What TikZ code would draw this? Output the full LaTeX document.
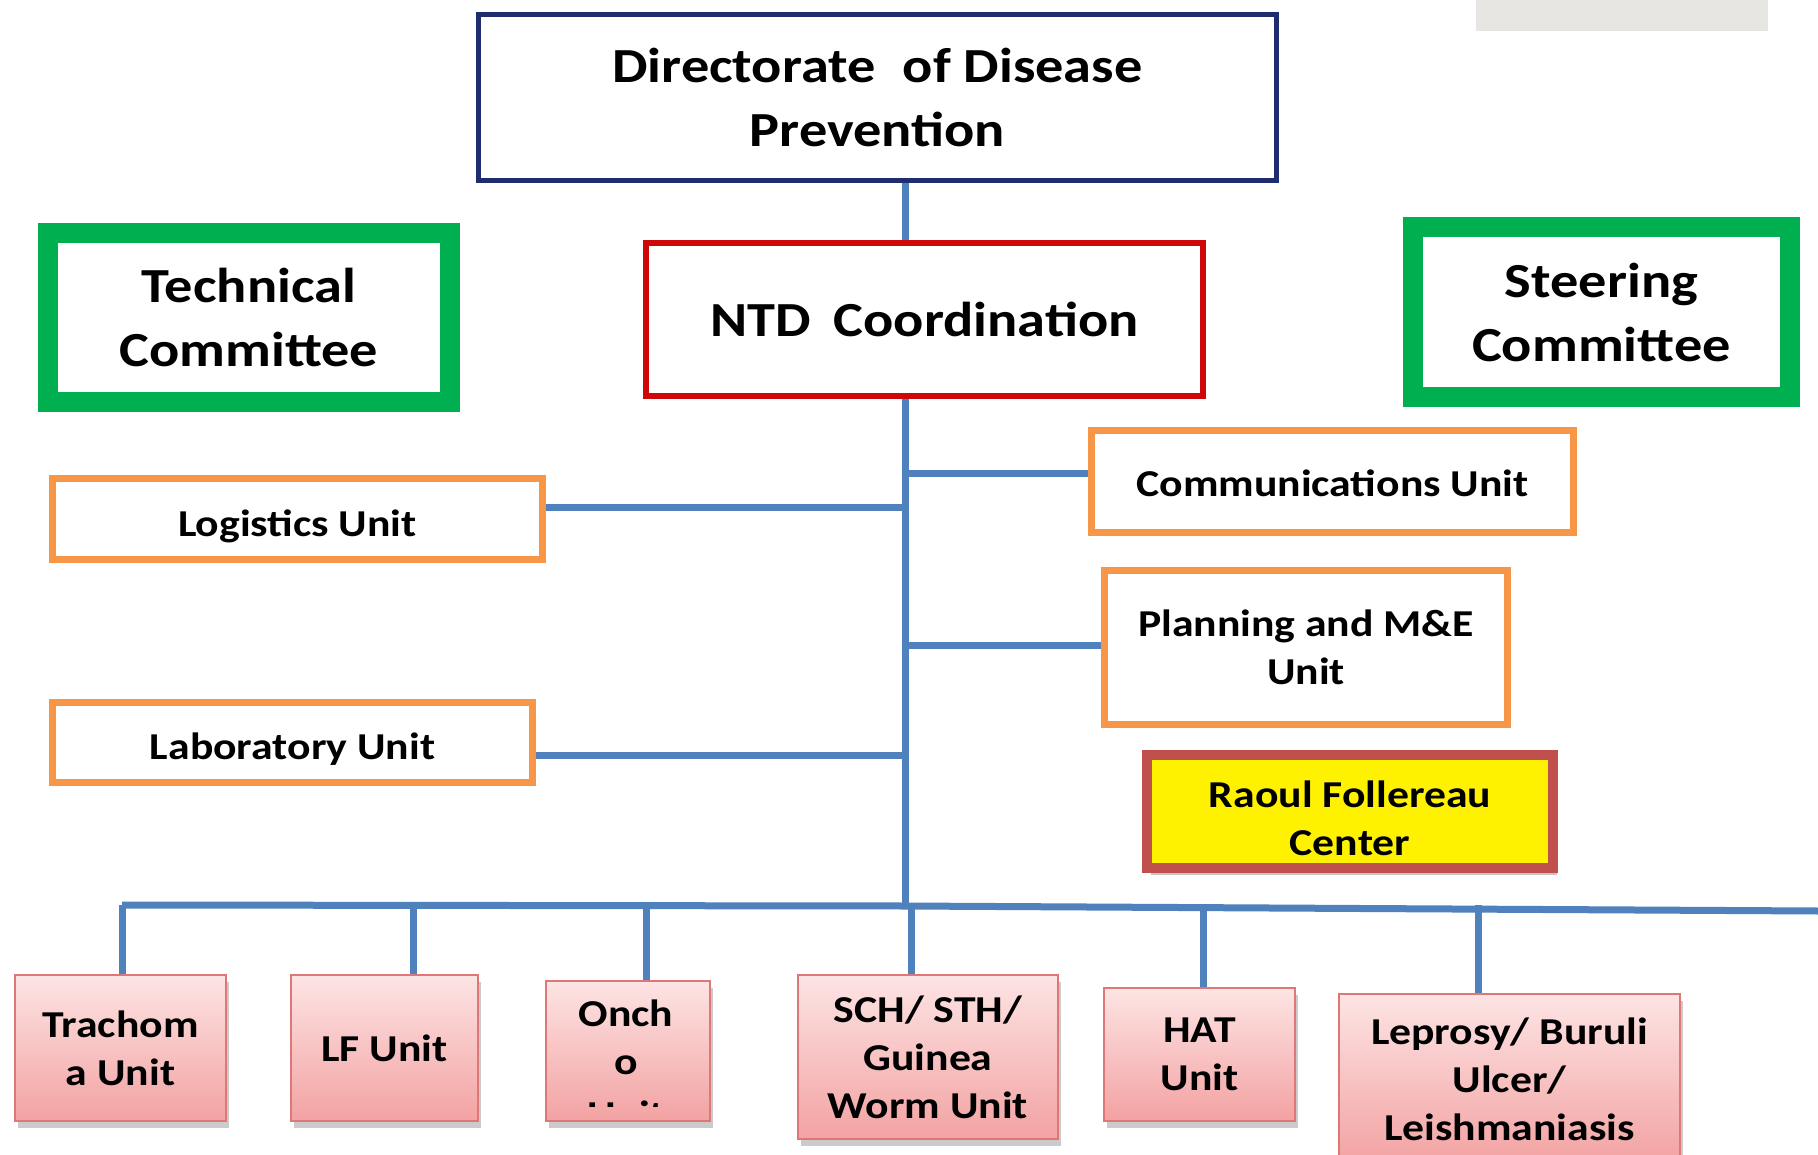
\documentclass[tikz,border=0pt]{standalone}
\usepackage{fontspec}
\setmainfont{Carlito}[FakeStretch=1.15]
\usetikzlibrary{shadows}

\definecolor{navyEdge}{RGB}{31,45,110}
\definecolor{redEdge}{RGB}{204,8,8}
\definecolor{greenEdge}{RGB}{0,176,80}
\definecolor{orangeEdge}{RGB}{247,150,70}
\definecolor{linkBlue}{RGB}{79,129,189}
\definecolor{raoulEdge}{RGB}{192,80,77}
\definecolor{pinkTop}{RGB}{253,228,228}
\definecolor{pinkBot}{RGB}{243,162,162}
\definecolor{pinkEdge}{RGB}{222,120,120}
\definecolor{tabGray}{RGB}{232,230,227}

% invisible strut that lowers a line of text inside its box
\newcommand{\lowerby}[1]{\rule{0pt}{#1}}

\tikzset{
  bigtxt/.style={font=\fontsize{49}{64}\selectfont\bfseries, align=center},
  smalltxt/.style={font=\fontsize{38}{48}\selectfont\bfseries, align=center},
  boxdim/.style 2 args={rectangle, inner sep=0pt, minimum width=#1, minimum height=#2},
  navybox/.style={draw=navyEdge, line width=5.5pt, fill=white, bigtxt},
  redbox/.style={draw=redEdge, line width=6.5pt, fill=white, bigtxt},
  greenbox/.style={draw=greenEdge, line width=20pt, fill=white, bigtxt},
  orangebox/.style={draw=orangeEdge, line width=7pt, fill=white, smalltxt},
  raoulbox/.style={draw=raoulEdge, line width=10pt, fill=yellow, smalltxt,
    drop shadow={shadow xshift=4pt, shadow yshift=-7pt, fill=black!45}},
  unitbox/.style={draw=pinkEdge, line width=2.5pt, top color=pinkTop, bottom color=pinkBot,
    smalltxt, drop shadow={shadow xshift=3pt, shadow yshift=-7pt, fill=black!40}},
  conn/.style={draw=linkBlue, line width=7pt},
}

\begin{document}
\begin{tikzpicture}[x=1pt,y=-1pt]
\useasboundingbox (0,0) rectangle (1818,1155);
\fill[white] (0,0) rectangle (1818,1155);
\fill[tabGray] (1476,0) rectangle (1768,31);

% top of the hierarchy
\node[navybox, boxdim={798pt}{166pt}] (dir) at (877.5,97.5) {Directorate\hspace{0.3em} of Disease\\Prevention};
\node[redbox, boxdim={557pt}{153pt}] (ntd) at (924.5,319.5) {NTD\hspace{0.2em} Coordination};
\node[greenbox, boxdim={402pt}{169pt}] (tech) at (249,317.5) {Technical\\Committee};
\node[greenbox, boxdim={377pt}{170pt}] (steer) at (1601.5,312) {Steering\\Committee};

% support units
\node[orangebox, boxdim={490pt}{81pt}] (log) at (297.5,519) {\lowerby{42pt}Logistics Unit};
\node[orangebox, boxdim={482pt}{102pt}] (comm) at (1332.5,481.5) {\lowerby{30pt}Communications Unit};
\node[orangebox, boxdim={403pt}{154pt}] (plan) at (1306,647.5) {Planning and M\&E\\Unit};
\node[orangebox, boxdim={480pt}{80pt}] (lab) at (292.5,742.5) {\lowerby{39pt}Laboratory Unit};
\node[raoulbox, boxdim={406pt}{113pt}] (raoul) at (1350,811.5) {\lowerby{41pt}Raoul Follereau\\Center};

% disease units
\node[unitbox, boxdim={211pt}{146pt}] (tra) at (120.5,1048) {Trachom\\a Unit};
\node[unitbox, boxdim={187pt}{146pt}] (lf) at (384.5,1048) {LF Unit};
\node[unitbox, boxdim={164pt}{140pt}] (onc) at (628,1051) {};
\begin{scope}
  \clip (547,982) rectangle (709,1106);
  \node[smalltxt, inner sep=0pt, anchor=north] (onctext) at (626,1000) {Onch\\o\\[5pt]Unit};
\end{scope}
\node[unitbox, boxdim={260pt}{164pt}] (sch) at (928,1057) {SCH/ STH/\\Guinea\\Worm Unit};
\node[unitbox, boxdim={191pt}{133pt}] (hat) at (1199.5,1054.5) {HAT\\Unit};
\node[unitbox, boxdim={341pt}{170pt}] (lep) at (1509.5,1079) {Leprosy/ Buruli\\Ulcer/\\Leishmaniasis};

% connector reference points
\coordinate (tx) at (905,0);
\coordinate (hub) at (905,906);
\coordinate (busL) at (122,905);
\coordinate (busR) at (1818,911);
\coordinate (yLog) at (0,507);
\coordinate (yComm) at (0,473);
\coordinate (yPlan) at (0,645);
\coordinate (yLab) at (0,755);
\coordinate (dTra) at (122,0);
\coordinate (dLf) at (413,0);
\coordinate (dOnc) at (646,0);
\coordinate (dSch) at (911,0);
\coordinate (dHat) at (1203,0);
\coordinate (dLep) at (1478,0);

% connectors
\draw[conn] (dir.south -| tx) -- (ntd.north -| tx);
\draw[conn] (ntd.south -| tx) -- (hub);
\draw[conn] (log.east |- yLog) -- (tx |- yLog);
\draw[conn] (tx |- yComm) -- (comm.west |- yComm);
\draw[conn] (tx |- yPlan) -- (plan.west |- yPlan);
\draw[conn] (lab.east |- yLab) -- (tx |- yLab);
\draw[conn] (busL) -- (hub) -- (busR);
\draw[conn] (dTra |- busL) -- (dTra |- tra.north);
\draw[conn] (dLf |- busL) -- (dLf |- lf.north);
\draw[conn] (dOnc |- busL) -- (dOnc |- onc.north);
\draw[conn] (dSch |- busL) -- (dSch |- sch.north);
\draw[conn] (dHat |- busL) -- (dHat |- hat.north);
\draw[conn] (dLep |- busL) -- (dLep |- lep.north);
\end{tikzpicture}
\end{document}
